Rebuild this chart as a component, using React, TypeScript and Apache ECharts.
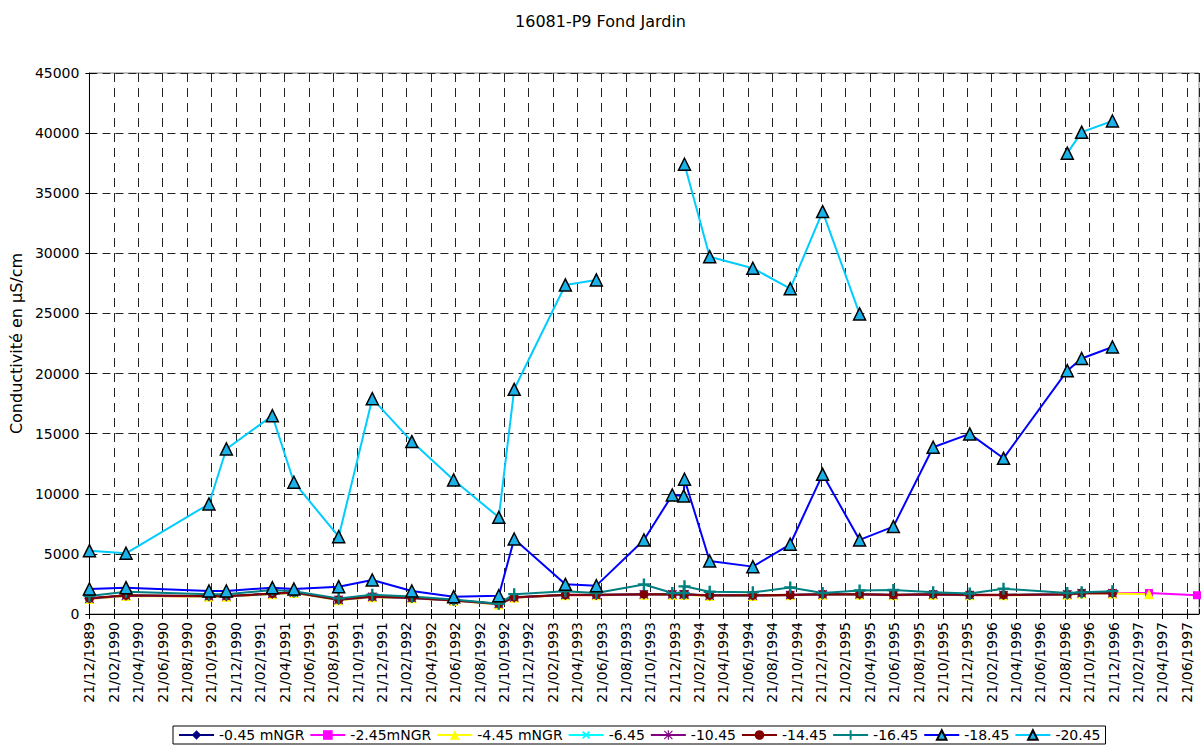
import React, { useEffect, useRef } from "react";
import * as echarts from "echarts";

// ---- Data ----
const sampleDates = [
  "1989-12-21", "1990-03-21", "1990-10-15", "1990-11-28", "1991-03-21", "1991-05-14",
  "1991-09-04", "1991-11-27", "1992-03-04", "1992-06-17", "1992-10-08", "1992-11-16",
  "1993-03-22", "1993-06-08", "1993-10-05", "1993-12-15", "1994-01-13", "1994-01-15",
  "1994-03-17", "1994-07-03", "1994-10-05", "1994-12-25", "1995-03-26", "1995-06-19",
  "1995-09-27", "1995-12-27", "1996-03-20", "1996-08-27", "1996-10-02", "1996-12-18",
  "1997-03-18", "1997-07-16",
];

const s045 = [1280, 1520, 1470, 1470, 1680, 1780, 1180, 1430, 1330, 1130, 830, 1380, 1580, 1580, 1630, 1630, 1630, 1630, 1530, 1530, 1580, 1630, 1630, 1580, 1630, 1580, 1580, 1630, 1730, 1730, null, null];
const s245 = [1270, 1510, 1460, 1460, 1670, 1770, 1170, 1420, 1320, 1120, 820, 1370, 1570, 1570, 1620, 1620, 1620, 1620, 1520, 1520, 1570, 1620, 1620, 1570, 1620, 1570, 1570, 1620, 1720, 1720, 1750, 1560];
const s445 = [1250, 1490, 1440, 1440, 1650, 1750, 1150, 1400, 1300, 1100, 800, 1350, 1550, 1550, 1600, 1600, 1600, 1600, 1500, 1500, 1550, 1600, 1600, 1550, 1600, 1550, 1550, 1600, 1700, 1700, 1640, null];
const s645 = [1290, 1530, 1480, 1480, 1690, 1790, 1190, 1440, 1340, 1140, 840, 1390, 1590, 1590, 1640, 1640, 1640, 1640, 1540, 1540, 1590, 1640, 1640, 1590, 1640, 1590, 1590, 1640, 1740, 1740, null, null];
const s1045 = [1280, 1530, 1480, 1480, 1680, 1780, 1180, 1430, 1330, 1130, 830, 1380, 1580, 1580, 1630, 1630, 1630, 1630, 1530, 1530, 1580, 1630, 1630, 1580, 1630, 1580, 1580, 1630, 1730, 1730, null, null];
const s1445 = [1300, 1550, 1500, 1500, 1700, 1800, 1200, 1450, 1350, 1150, 850, 1400, 1600, 1600, 1650, 1650, 1650, 1650, 1550, 1550, 1600, 1650, 1650, 1600, 1650, 1600, 1600, 1650, 1750, 1750, null, null];
const s1645 = [1500, 1850, 1650, 1650, 2000, 1900, 1300, 1600, 1450, 1200, 850, 1650, 1900, 1750, 2450, 1750, 1750, 2300, 1850, 1800, 2200, 1750, 1950, 2000, 1800, 1700, 2100, 1750, 1800, 1900, null, null];
const s1845 = [2080, 2190, 1910, 1910, 2190, 2080, 2270, 2830, 1910, 1440, 1520, 6240, 2470, 2360, 6160, 9900, 9820, 11210, 4410, 3940, 5800, 11620, 6160, 7270, 13870, 14980, 12950, 20240, 21250, 22210, null, null];
const s2045 = [5270, 5050, 9150, 13730, 16500, 10960, 6430, 17910, 14340, 11150, 8040, 18690, 27370, 27790, null, null, null, 37410, 29720, 28760, 27060, 33470, 24960, null, null, null, null, 38330, 40080, 41010, null, null];

const seriesNames = ["-0.45 mNGR", "-2.45mNGR", "-4.45 mNGR", "-6.45", "-10.45", "-14.45", "-16.45", "-18.45", "-20.45"];

const chartTitle = "16081-P9 Fond Jardin";
const yAxisTitle = "Conductivité en µS/cm";
const axisStartYear = 1989;
const axisStartMonth = 12;
const axisDay = 21;

// months elapsed since 21/12/1989 (axis unit)
function monthIndex(s: string): number {
  const [y, m, d] = s.split("-").map(Number);
  return (y - axisStartYear) * 12 + (m - axisStartMonth) + (d - axisDay) / 30.44;
}

function tickLabel(v: number): string {
  const total = axisStartYear * 12 + (axisStartMonth - 1) + Math.round(v);
  const y = Math.floor(total / 12);
  const m = (total % 12) + 1;
  return `${axisDay}/${m < 10 ? "0" + m : m}/${y}`;
}

const PLUS = "path://M4,0H6V4H10V6H6V10H4V6H0V4H4Z";
const STAR =
  "path://M4.4,0H5.6V10H4.4Z M0,4.4H10V5.6H0Z M1.2,0.4L9.6,8.8L8.8,9.6L0.4,1.2Z M8.8,0.4L9.6,1.2L1.2,9.6L0.4,8.8Z";

const FONT = "DejaVu Sans";

export default function App() {
  const ref = useRef<HTMLDivElement>(null);

  useEffect(() => {
    if (!ref.current) return;
    const chart = echarts.init(ref.current, undefined, { renderer: "svg" });

    const toData = (vals: (number | null)[]) =>
      sampleDates.map((d, i) => [monthIndex(d), vals[i] === null ? "-" : vals[i]]);

    const mk = (
      name: string,
      vals: (number | null)[],
      lineColor: string,
      symbol: string,
      size: number,
      fill: string,
      border?: string,
      rotate?: number,
      connect = true
    ) => ({
      name,
      type: "line",
      data: toData(vals),
      connectNulls: connect,
      showSymbol: true,
      symbol,
      symbolSize: size,
      symbolRotate: rotate || 0,
      lineStyle: { color: lineColor, width: 2 },
      itemStyle: {
        color: fill,
        borderColor: border || fill,
        borderWidth: border ? 1.5 : 0,
      },
      emphasis: { disabled: true },
      z: 3,
    });

    const series = [
      mk(seriesNames[0], s045, "#000080", "diamond", 9, "#000080"),
      mk(seriesNames[1], s245, "#FF00FF", "rect", 8, "#FF00FF"),
      mk(seriesNames[2], s445, "#FFFF00", "triangle", 10, "#FFFF00"),
      mk(seriesNames[3], s645, "#00FFFF", PLUS, 10, "#00FFFF", undefined, 45),
      mk(seriesNames[4], s1045, "#800080", STAR, 10, "#800080"),
      mk(seriesNames[5], s1445, "#800000", "circle", 9, "#800000"),
      mk(seriesNames[6], s1645, "#008080", PLUS, 12, "#008080"),
      mk(seriesNames[7], s1845, "#0000FF", "triangle", 12, "#1AB2E8", "#000000"),
      mk(seriesNames[8], s2045, "#00CCFF", "triangle", 12, "#1AB2E8", "#000000", 0, false),
    ];

    const gridLine = (dash: number[]) => ({
      show: true,
      lineStyle: { color: "#222", width: 1, type: dash },
    });

    chart.setOption({
      animation: false,
      backgroundColor: "#fff",
      textStyle: { fontFamily: FONT },
      title: {
        text: chartTitle,
        left: "center",
        top: 8,
        textStyle: { fontFamily: FONT, fontSize: 16, fontWeight: "normal", color: "#000" },
      },
      grid: {
        left: 89,
        right: 2,
        top: 73,
        bottom: 133,
        show: true,
        borderColor: "#808080",
        borderWidth: 1,
      },
      legend: {
        left: 173,
        top: 726,
        padding: [2, 5],
        itemGap: 5,
        itemWidth: 35,
        itemHeight: 12,
        borderColor: "#000",
        borderWidth: 1,
        backgroundColor: "#fff",
        textStyle: { fontFamily: FONT, fontSize: 14, color: "#000" },
        data: seriesNames,
      },
      xAxis: [
        {
          type: "value",
          min: 0,
          max: 91,
          interval: 2,
          axisLine: { show: true, lineStyle: { color: "#000", width: 1 } },
          axisTick: { show: true, inside: false, length: 5, lineStyle: { color: "#000" } },
          axisLabel: {
            rotate: 90,
            margin: 8,
            fontFamily: FONT,
            fontSize: 14,
            color: "#000",
            showMaxLabel: false,
            formatter: (v: number) => tickLabel(v),
          },
          splitLine: gridLine([9, 6]),
        },
        {
          type: "value",
          min: 0,
          max: 91,
          interval: 2,
          position: "bottom",
          axisLine: { show: false },
          axisTick: { show: true, inside: true, length: 5, lineStyle: { color: "#000" } },
          axisLabel: { show: false },
          splitLine: { show: false },
        },
      ],
      yAxis: [
        {
          type: "value",
          min: 0,
          max: 45000,
          interval: 5000,
          name: yAxisTitle,
          nameLocation: "middle",
          nameGap: 63,
          nameRotate: 90,
          nameTextStyle: { fontFamily: FONT, fontSize: 16, color: "#000" },
          axisLine: { show: true, lineStyle: { color: "#000", width: 1 } },
          axisTick: { show: true, inside: false, length: 4, lineStyle: { color: "#000" } },
          axisLabel: {
            margin: 10,
            fontFamily: FONT,
            fontSize: 14,
            color: "#000",
            formatter: (v: number) => String(v),
          },
          splitLine: gridLine([8, 5]),
        },
        {
          type: "value",
          min: 0,
          max: 45000,
          interval: 5000,
          position: "left",
          axisLine: { show: false },
          axisTick: { show: true, inside: true, length: 6, lineStyle: { color: "#000" } },
          axisLabel: { show: false },
          splitLine: { show: false },
        },
      ],
      series,
    });

    return () => chart.dispose();
  }, []);

  return (
    <div
      ref={ref}
      style={{ position: "fixed", left: 0, top: 0, width: 1201, height: 747, background: "#fff" }}
    />
  );
}
